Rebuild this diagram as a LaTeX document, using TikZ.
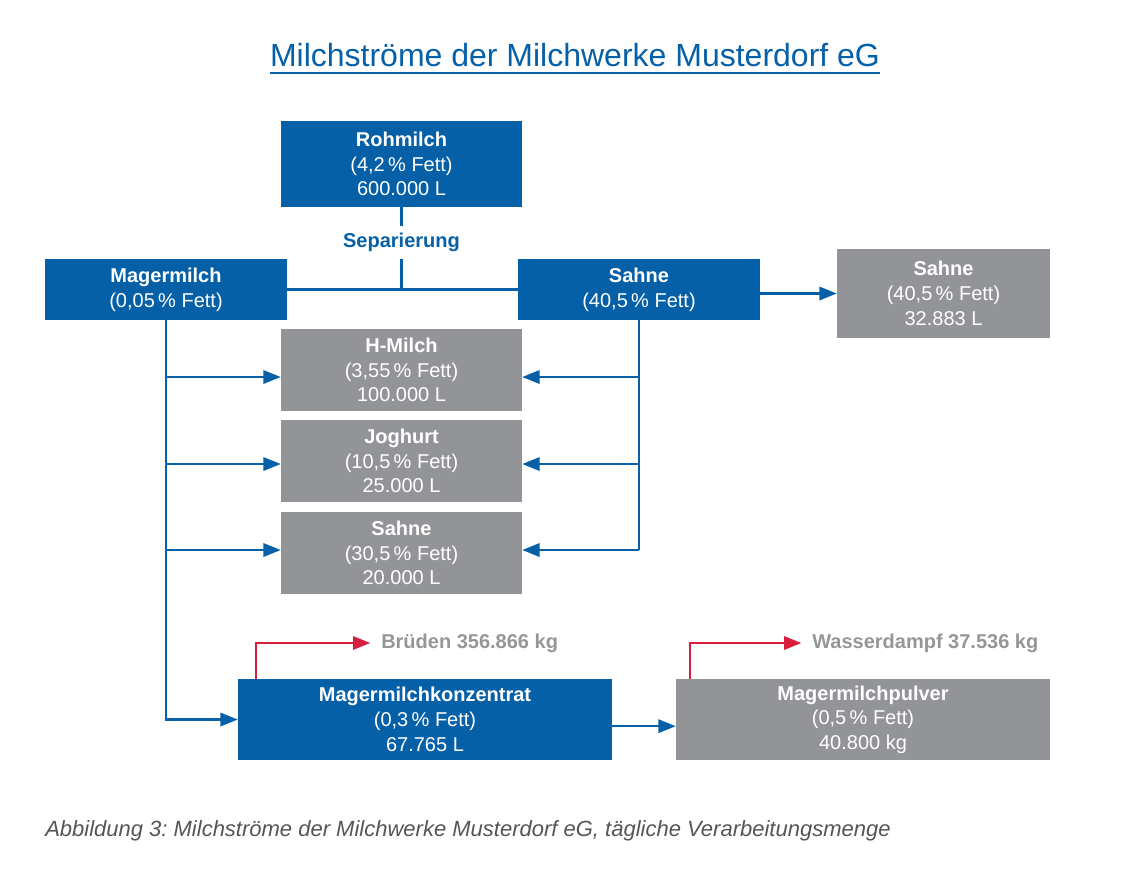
\documentclass[tikz,border=0pt]{standalone}
\usepackage{fontspec}
\setmainfont{Liberation Sans}
\usepackage{tikz}
\usetikzlibrary{positioning}
\usetikzlibrary{arrows.meta}
\usetikzlibrary{calc}
\definecolor{milchblau}{RGB}{5, 96, 168}
\definecolor{milchgrau}{RGB}{147, 148, 152}
\definecolor{labelgrau}{RGB}{150, 150, 152}
\definecolor{dampfrot}{RGB}{215, 30, 60}
\definecolor{textgrau}{RGB}{85, 85, 85}
\frenchspacing

\begin{document}
\begin{tikzpicture}[
  x=0.75pt, y=-0.75pt,
  box/.style={rectangle, inner sep=0pt, align=center, text=white, font=\fontsize{15}{18.5}\selectfont},
  bluebox/.style={box, fill=milchblau},
  greybox/.style={box, fill=milchgrau},
  flow/.style={draw=milchblau, line width=1.7pt},
  arrow/.style={flow, -{Triangle[length=13pt, width=10pt]}},
  steam/.style={draw=dampfrot, line width=1.7pt, -{Triangle[length=13pt, width=10pt]}, shorten >=8pt},
  steamlabel/.style={anchor=west, inner sep=0pt, text=labelgrau, font=\bfseries\fontsize{15}{18}\selectfont}
]
\useasboundingbox (0,0) rectangle (1141,869);

% Title
\node[inner sep=0pt, text=milchblau, font=\fontsize{24}{28}\selectfont] (title) at (575,55) {Milchströme der Milchwerke Musterdorf eG};
\draw[milchblau, line width=1.5pt] ([yshift=-5pt]title.base west) -- ([yshift=-5pt]title.base east);

% Nodes
\node[bluebox, minimum width=180.75pt, minimum height=64.5pt] (roh) at (401.5,164) {\textbf{Rohmilch}\\(4,2\,\% Fett)\\600.000 L};
\node[inner sep=0pt, minimum height=24.75pt, text=milchblau, font=\bfseries\fontsize{15}{18}\selectfont] (sep) at (401.5,242.5) {Separierung};
\node[bluebox, minimum width=181.5pt, minimum height=45.75pt] (mager) at (166,289.5) {\textbf{Magermilch}\\(0,05\,\% Fett)};
\node[bluebox, minimum width=181.5pt, minimum height=45.75pt] (sahne) at (639,289.5) {\textbf{Sahne}\\(40,5\,\% Fett)};
\node[greybox, minimum width=159.75pt, minimum height=66.75pt] (sahneg) at (943.5,293.5) {\textbf{Sahne}\\(40,5\,\% Fett)\\32.883 L};
\node[greybox, minimum width=180.75pt, minimum height=61.5pt] (hmilch) at (401.5,370) {\textbf{H-Milch}\\(3,55\,\% Fett)\\100.000 L};
\node[greybox, minimum width=180.75pt, minimum height=61.5pt] (joghurt) at (401.5,461) {\textbf{Joghurt}\\(10,5\,\% Fett)\\25.000 L};
\node[greybox, minimum width=180.75pt, minimum height=61.5pt] (sahne30) at (401.5,553) {\textbf{Sahne}\\(30,5\,\% Fett)\\20.000 L};
\node[bluebox, minimum width=280.5pt, minimum height=60.75pt] (konz) at (425,719.5) {\textbf{Magermilchkonzentrat}\\(0,3\,\% Fett)\\67.765 L};
\node[greybox, minimum width=280.5pt, minimum height=60.75pt] (pulver) at (863,719.5) {\textbf{Magermilchpulver}\\(0,5\,\% Fett)\\40.800 kg};
\node[steamlabel] (brueden) at (381,643) {Brüden 356.866 kg};
\node[steamlabel] (dampf) at (812,643) {Wasserdampf 37.536 kg};

% Arrow ends on the product boxes
\coordinate (hmilchL)  at ([yshift=-5.25pt]hmilch.west);
\coordinate (hmilchR)  at ([yshift=-5.25pt]hmilch.east);
\coordinate (joghurtL) at ([yshift=-2.25pt]joghurt.west);
\coordinate (joghurtR) at ([yshift=-2.25pt]joghurt.east);
\coordinate (sahne30L) at ([yshift=2.25pt]sahne30.west);
\coordinate (sahne30R) at ([yshift=2.25pt]sahne30.east);

% Separation
\draw[flow] (roh.south) -- (sep.north);
\draw[flow] (sep.south) -- (sep.south |- mager.east);
\draw[flow] (mager.east) -- (sahne.west);
\draw[arrow] (sahne.east |- sahneg.west) -- (sahneg.west);

% Magermilch branch
\draw[arrow] (mager.south) |- (konz.west);
\draw[arrow] (mager.south |- hmilchL) -- (hmilchL);
\draw[arrow] (mager.south |- joghurtL) -- (joghurtL);
\draw[arrow] (mager.south |- sahne30L) -- (sahne30L);

% Sahne branch
\draw[flow] (sahne.south) -- (sahne.south |- sahne30R);
\draw[arrow] (sahne.south |- hmilchR) -- (hmilchR);
\draw[arrow] (sahne.south |- joghurtR) -- (joghurtR);
\draw[arrow] (sahne.south |- sahne30R) -- (sahne30R);

% Drying
\draw[arrow] ([yshift=-5pt]konz.east) -- ([yshift=-5pt]pulver.west);
\draw[steam] ([xshift=13.5pt]konz.north west) |- (brueden.west);
\draw[steam] ([xshift=10.5pt]pulver.north west) |- (dampf.west);

% Caption
\node[anchor=west, inner sep=0pt, text=textgrau, font=\itshape\fontsize{16.5}{18}\selectfont] (caption) at (45,831) {Abbildung 3: Milchströme der Milchwerke Musterdorf eG, tägliche Verarbeitungsmenge};

\end{tikzpicture}
\end{document}
